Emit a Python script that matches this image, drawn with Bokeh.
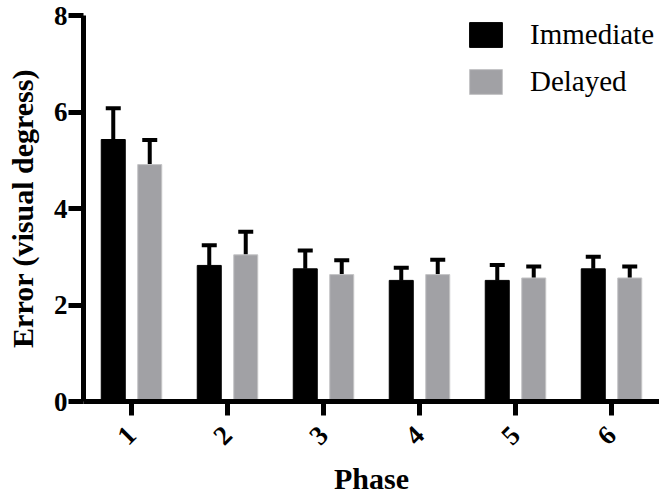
import math
from bokeh.plotting import figure
from bokeh.models import ColumnDataSource, Whisker, TeeHead, Legend, LegendItem, FixedTicker
from bokeh.transform import dodge
from bokeh.embed import file_html
from bokeh.resources import INLINE

phases = ["1", "2", "3", "4", "5", "6"]
immediate_mean = [5.43, 2.82, 2.75, 2.51, 2.51, 2.75]
immediate_err = [0.65, 0.42, 0.38, 0.26, 0.32, 0.25]
delayed_mean = [4.91, 3.04, 2.63, 2.63, 2.56, 2.56]
delayed_err = [0.51, 0.48, 0.30, 0.31, 0.24, 0.24]
series_names = ["Immediate", "Delayed"]
y_ticks = [0, 2, 4, 6, 8]

FONT = "'Liberation Serif'"

src = ColumnDataSource(dict(
    phase=phases,
    im=immediate_mean,
    im_up=[m + e for m, e in zip(immediate_mean, immediate_err)],
    de=delayed_mean,
    de_up=[m + e for m, e in zip(delayed_mean, delayed_err)],
))

p = figure(x_range=phases, y_range=(0, 8), width=659, height=497,
           output_backend="svg", toolbar_location=None,
           min_border_left=83, min_border_right=0, min_border_top=15, min_border_bottom=96)
p.x_range.range_padding = 0
p.outline_line_color = None
p.grid.grid_line_color = None
p.background_fill_color = "white"
p.border_fill_color = "white"

off = 0.19
w = 0.25
r_im = p.vbar(x=dodge("phase", -off, range=p.x_range), top="im", width=w, bottom=0,
              source=src, fill_color="#000000", line_color="#000000", line_width=1)
r_de = p.vbar(x=dodge("phase", off, range=p.x_range), top="de", width=w, bottom=0,
              source=src, fill_color="#A1A1A5", line_color="#C4C4C6", line_width=1)

for col_lo, col_up, o in (("im", "im_up", -off), ("de", "de_up", off)):
    wk = Whisker(base=dodge("phase", o, range=p.x_range), lower=col_lo, upper=col_up,
                 source=src, line_color="black", line_width=4,
                 upper_head=TeeHead(size=15, line_width=4, line_color="black"),
                 lower_head=None)
    p.add_layout(wk)

# axes
for ax in (p.xaxis[0], p.yaxis[0]):
    ax.axis_line_width = 5
    ax.axis_line_color = "black"
    ax.major_tick_line_width = 5
    ax.major_tick_line_color = "black"
    ax.major_tick_in = 0
    ax.minor_tick_line_color = None
    ax.major_label_text_font = FONT
    ax.major_label_text_font_style = "bold"
    ax.major_label_text_font_size = "27px"
    ax.major_label_text_color = "black"
    ax.axis_label_text_font = FONT
    ax.axis_label_text_font_style = "bold"
    ax.axis_label_text_font_size = "30px"
    ax.axis_label_text_color = "black"

p.yaxis.ticker = FixedTicker(ticks=y_ticks)
p.yaxis.major_tick_out = 15
p.yaxis.major_label_standoff = 1
p.yaxis.axis_label = "Error (visual degress)"
p.yaxis.axis_label_standoff = 12

p.xaxis.major_tick_out = 14
p.xaxis.major_label_standoff = 15
p.xaxis.major_label_orientation = math.pi / 4
p.xaxis.axis_label = "Phase"
p.xaxis.axis_label_standoff = 6

legend = Legend(items=[LegendItem(label=series_names[0], renderers=[r_im]),
                       LegendItem(label=series_names[1], renderers=[r_de])],
                location=(382, 303), orientation="vertical",
                glyph_width=41, glyph_height=31, label_standoff=24, label_height=31,
                spacing=14, padding=0, margin=0,
                label_text_font=FONT, label_text_font_size="29px",
                label_text_color="black", label_text_baseline="middle",
                border_line_color=None, background_fill_alpha=0)
p.add_layout(legend)

open("out.html", "w").write(file_html(p, INLINE))
